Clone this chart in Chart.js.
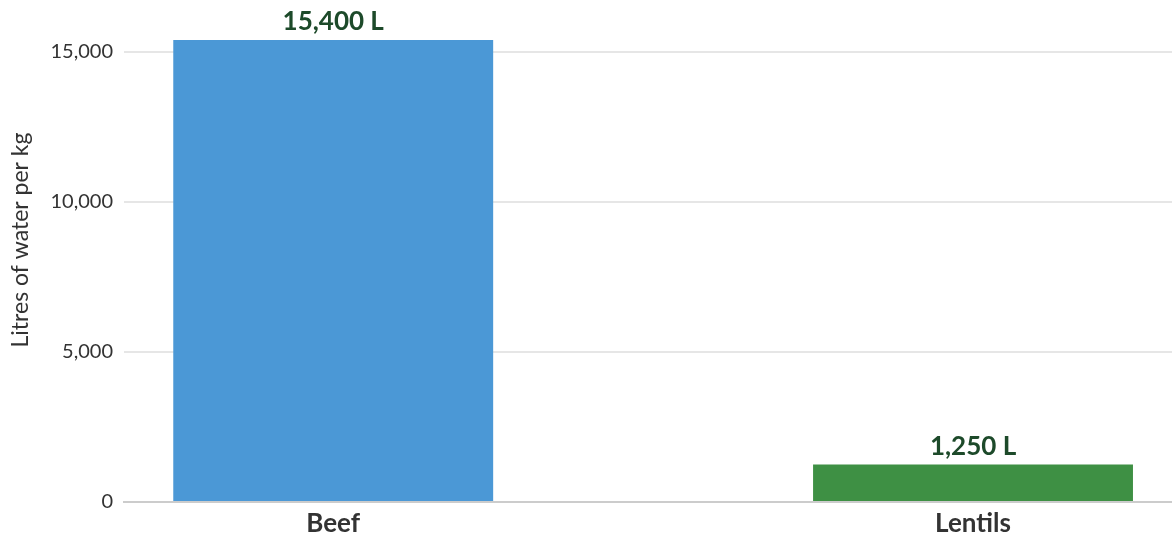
<!DOCTYPE html>
<html>
<head>
<meta charset="utf-8">
<script src="https://cdn.jsdelivr.net/npm/chart.js@4.4.1/dist/chart.umd.min.js"></script>
<style>
  html, body { margin: 0; padding: 0; background: #fff; }
  #wrap { width: 1172px; height: 537px; }
</style>
</head>
<body>
<div id="wrap"><canvas id="waterChart"></canvas></div>
<script>
// Water footprint: litres per kg of food
const FOODS = ['Beef', 'Lentils'];
const LITRES = [15400, 1250];
const BAR_COLORS = ['#4b98d6', '#3e9044'];
const Y_TICKS = [0, 5000, 10000, 15000];
const Y_TITLE = 'Litres of water per kg';

const fmt = n => n.toLocaleString('en-US');

// value labels above each bar, plus the rotated y title
const barLabels = {
  id: 'barLabels',
  afterDatasetsDraw(chart) {
    const { ctx } = chart;
    const meta = chart.getDatasetMeta(0);
    ctx.save();
    ctx.font = 'bold 26px Lato';
    ctx.fillStyle = '#1d4a2a';
    ctx.textAlign = 'center';
    ctx.textBaseline = 'bottom';
    meta.data.forEach((bar, i) => {
      ctx.fillText(fmt(LITRES[i]) + ' L', bar.x, bar.y - 5);
    });
    ctx.restore();

    ctx.save();
    ctx.translate(21, 240);
    ctx.rotate(-Math.PI / 2);
    ctx.font = '23px Lato';
    ctx.fillStyle = '#333333';
    ctx.textAlign = 'center';
    ctx.textBaseline = 'middle';
    ctx.fillText(Y_TITLE, 0, 0);
    ctx.restore();
  },
};

new Chart(document.getElementById('waterChart'), {
  type: 'bar',
  data: {
    datasets: [{
      data: LITRES.map((v, i) => ({ x: i, y: v })),
      backgroundColor: BAR_COLORS,
      barPercentage: 0.5,
      categoryPercentage: 1,
    }],
  },
  options: {
    responsive: true,
    maintainAspectRatio: false,
    animation: false,
    layout: { padding: { top: 40, right: 0, left: 0, bottom: 0 } },
    plugins: { legend: { display: false }, tooltip: { enabled: false } },
    scales: {
      x: {
        type: 'linear',
        offset: false,
        min: -0.327,
        max: 1.311,
        afterBuildTicks: s => { s.ticks = FOODS.map((_, i) => ({ value: i })); },
        afterFit: s => { s.height = 35; },
        grid: { display: false, drawTicks: false },
        border: { color: '#cccccc', width: 2 },
        ticks: {
          padding: 6,
          color: '#333333',
          font: { family: 'Lato', size: 26, weight: 'bold' },
          callback: v => FOODS[v],
        },
      },
      y: {
        min: 0,
        max: 15400,
        afterBuildTicks: s => { s.ticks = Y_TICKS.map(v => ({ value: v })); },
        afterFit: s => { s.width = 124; },
        grid: { color: '#e6e6e6', lineWidth: 2, drawTicks: false },
        border: { display: false },
        ticks: {
          padding: 11,
          color: '#333333',
          font: { family: 'Lato', size: 20 },
          callback: v => fmt(v),
        },
      },
    },
  },
  plugins: [barLabels],
});
</script>
</body>
</html>
